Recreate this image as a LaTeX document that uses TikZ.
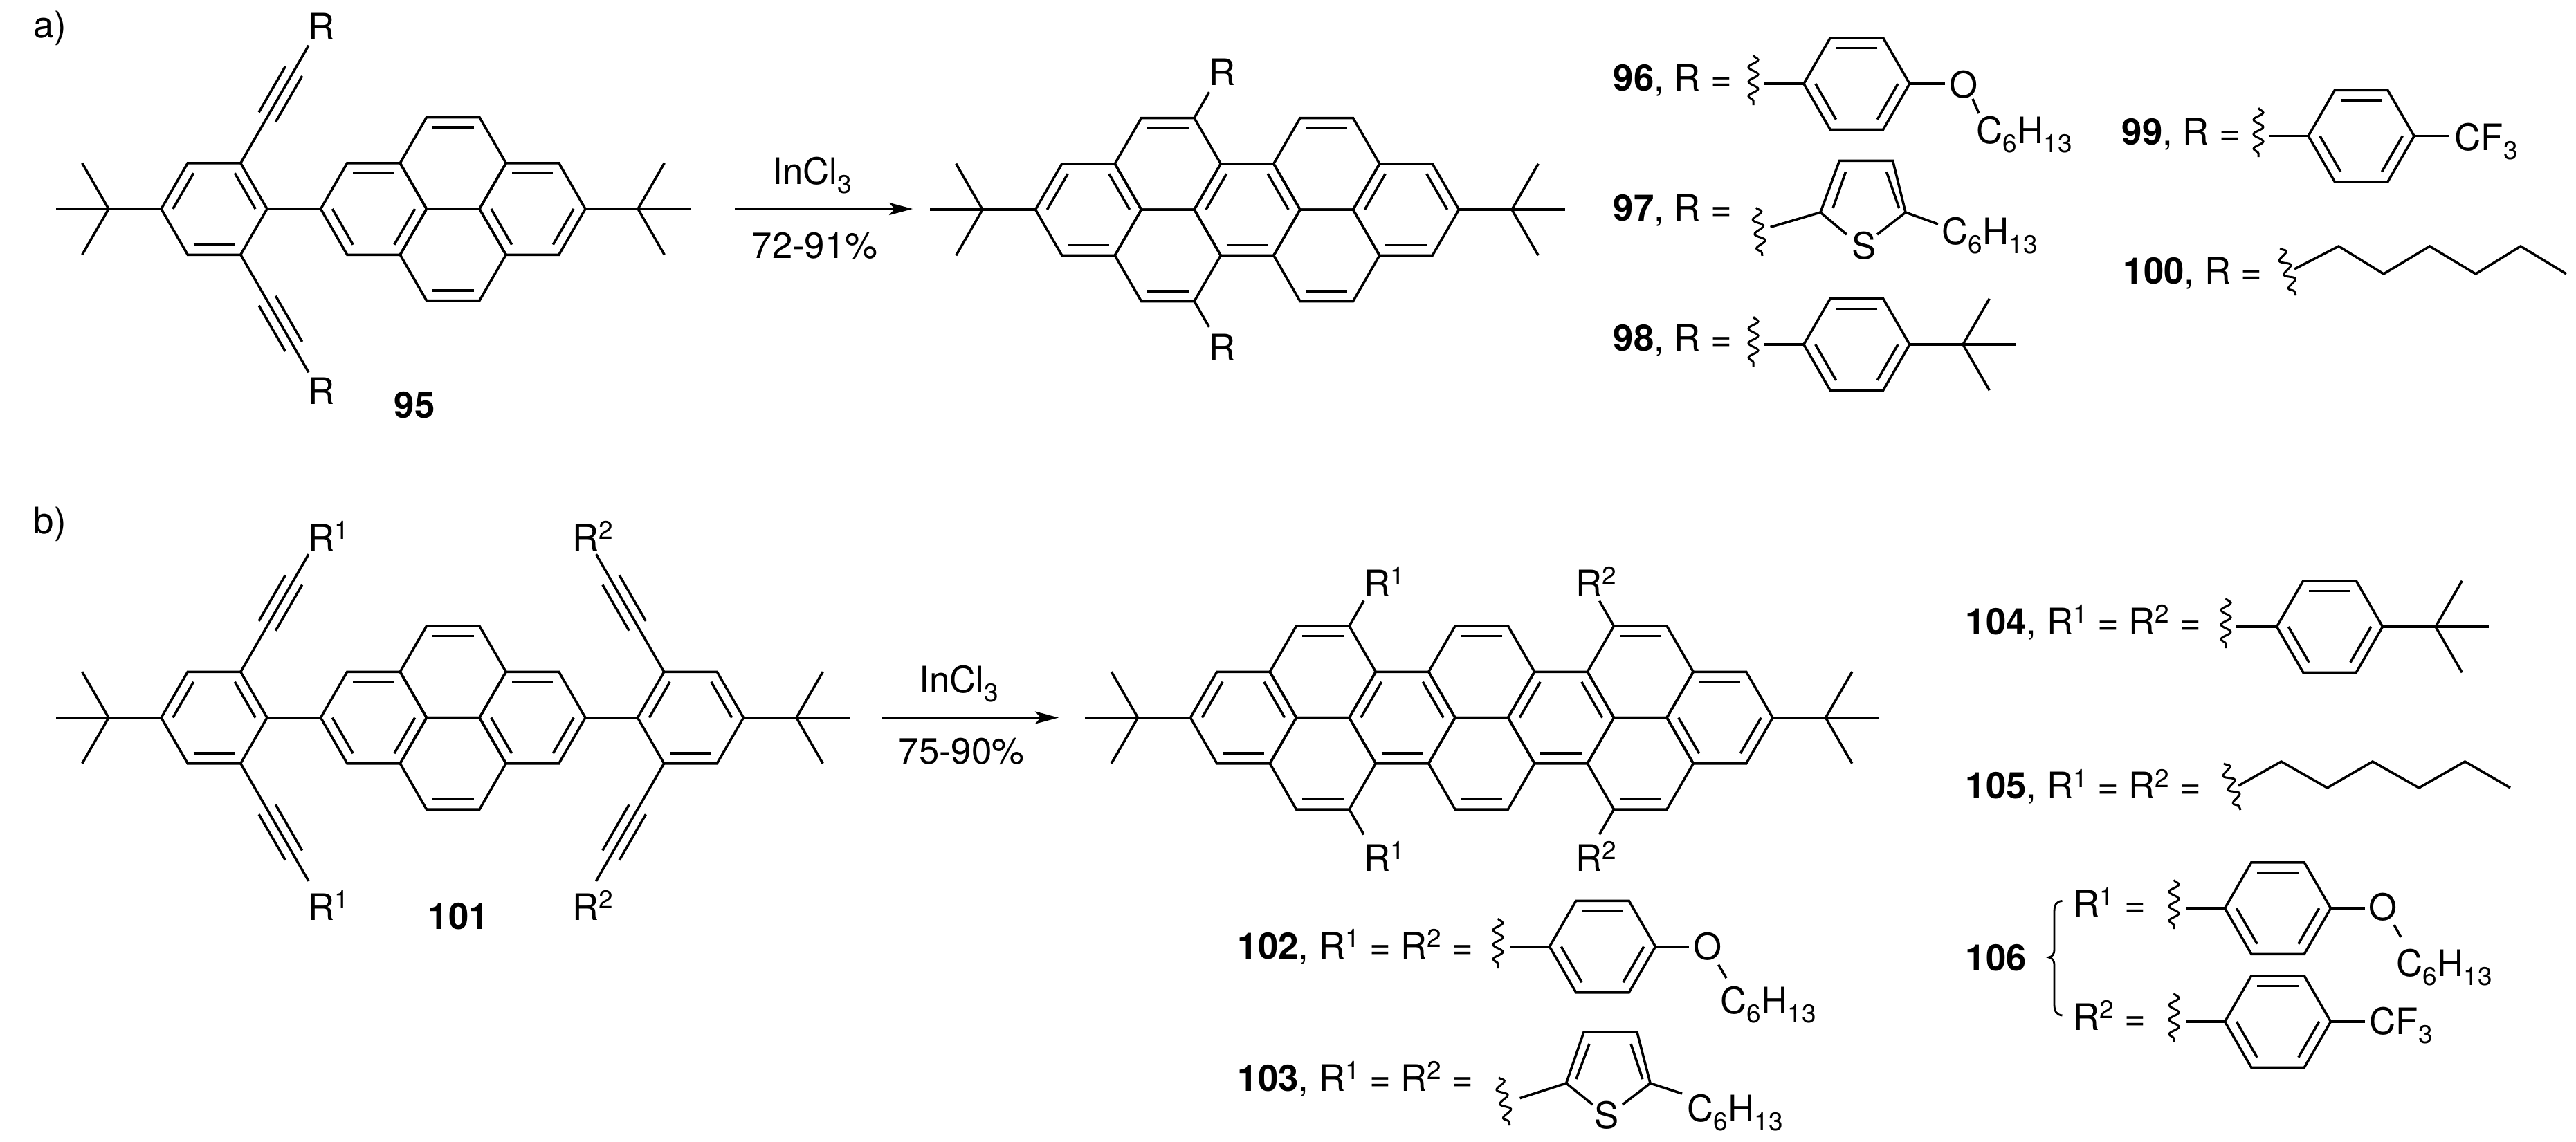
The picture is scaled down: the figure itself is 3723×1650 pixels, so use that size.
\documentclass[tikz,border=0pt]{standalone}
\usepackage{fontspec}
\setmainfont{TeX Gyre Heros}
\usetikzlibrary{calc,arrows.meta,decorations.pathmorphing}
\newcommand\lsub[1]{\raisebox{-3.7pt}{\fontsize{10.5}{12}\selectfont #1}}
\newcommand\lsup[1]{\raisebox{4.7pt}{\fontsize{10.5}{12}\selectfont #1}}
\tikzset{
	lbl/.style={font=\fontsize{15}{18}\selectfont,inner sep=0pt,anchor=base west},
	num/.style={lbl,font=\fontsize{15}{18}\selectfont\bfseries},
	bond/.style={line width=1pt},
	wavy/.style={line width=.85pt,decorate,decoration={snake,amplitude=.07cm,segment length=.21cm}},
	rxn/.style={line width=1pt,-{Stealth[length=.34cm,width=.18cm,inset=.08cm]}}
}
\begin{document}
\begin{tikzpicture}[x=.01cm,y=-.01cm,bond]
	\def\a{76.5}
	\def\s{114.75}
	\def\h{66.25}
	% vong 6 canh, #3 la cac canh co lien ket doi
	\def\ring#1#2#3{
		\draw (#1,#2)+(0:\a) -- +(60:\a) -- +(120:\a) -- +(180:\a) -- +(240:\a) -- +(300:\a) -- cycle;
		\foreach \k in {#3}
		\draw ($(#1,#2)+(-60*\k:.78*\a)$) -- ($(#1,#2)+(-60*\k-60:.78*\a)$);
	}
	\def\tbu#1#2#3{
		\foreach \k in {0,120,180,240}
		\draw (#1,#2) -- ++(#3+\k:\a);
	}
	\def\alkyne#1#2#3{
		\draw (#1,#2) -- ++(-#3:196);
		\draw ($(#1,#2)+(-#3:76.5)+(-#3-90:14)$) -- ++(-#3:76.5);
		\draw ($(#1,#2)+(-#3:76.5)+(-#3+90:14)$) -- ++(-#3:76.5);
	}
	\def\pyrene#1#2{
		\ring{#1}{#2}{1,3,5}
		\ring{#1+2*\s}{#2}{1,3,5}
		\ring{#1+\s}{#2-\h}{1}
		\ring{#1+\s}{#2+\h}{4}
	}
	% 4 vong kieu thang dung cho san pham
	\def\peri#1#2{
		\ring{#1}{#2}{0,2,4}
		\ring{#1+\s}{#2-\h}{1}
		\ring{#1+\s}{#2+\h}{4}
	}
	\def\wav#1#2#3#4{\draw[wavy] (#1,#2) -- (#3,#4);}
	\useasboundingbox (0,0) rectangle (3723,1650);
	
	% a)
	\node[lbl] (labA) at (47,54) {a)};
	\tbu{157}{302}{0}
	\ring{309.5}{302}{0,2,4}
	\draw (386,302) -- (463.5,302);
	\pyrene{540}{302}
	\tbu{922}{302}{180}
	\alkyne{348}{235.5}{60}
	\alkyne{348}{368.5}{-60}
	\node[lbl] (aRtop) at (444,57) {R};
	\node[lbl] (aRbot) at (444,584) {R};
	\node[num] (n95) at (568,604) {95};
	\coordinate (aArrL) at (1062,302);
	\coordinate (aArrR) at (1319,302);
	\draw[rxn] (aArrL) -- (aArrR);
	\node[lbl] (aCat) at (1115,266) {InCl\lsub{3}};
	\node[lbl] (aYld) at (1085,373) {72-91\%};
	\tbu{1420}{303}{0}
	\peri{1573}{303}
	\ring{1802.5}{303}{0,2,4}
	\ring{1917.25}{236.75}{1}
	\ring{1917.25}{369.25}{4}
	\ring{2032}{303}{0,2,4}
	\tbu{2185}{303}{180}
	\coordinate (aPt) at (1726,170.5);
	\coordinate (aPb) at (1726,435.5);
	\draw (aPt) -- ++(-60:43);
	\draw (aPb) -- ++(60:43);
	\node[lbl] (aRpt) at (1746,123) {R};
	\node[lbl] (aRpb) at (1746,521) {R};
	
	% 96
	\node[lbl] (n96) at (2330,131) {\textbf{96}, R =};
	\wav{2534}{80}{2534}{152}
	\draw (2550,121) -- (2607,121);
	\ring{2683.4}{121}{1,3,5}
	\draw (2760,121) -- (2811,121);
	\node[lbl] (o96) at (2816,141) {O};
	\draw (2851,143) -- (2860,164);
	\node[lbl] (c96) at (2855,207.5) {C\lsub{6}H\lsub{13}};
	% 97
	\node[lbl] (n97) at (2330,319) {\textbf{97}, R =};
	\wav{2538}{300}{2547}{370}
	\draw (2558.6,328.4) -- (2631,307) -- (2658.5,232.4) -- (2735.6,232.4) -- (2754,307) -- (2801,324);
	\draw (2631,307) -- (2669,339) (2754,307) -- (2713,339);
	\draw (2667.5,248.4) -- (2649,301) (2726.5,248.4) -- (2744.7,301);
	\node[lbl] (s97) at (2675,374) {S};
	\node[lbl] (c97) at (2805,353) {C\lsub{6}H\lsub{13}};
	% 98
	\node[lbl] (n98) at (2330,507) {\textbf{98}, R =};
	\wav{2534}{458}{2534}{530}
	\draw (2550,498) -- (2607,498);
	\ring{2683.4}{498}{1,3,5}
	\tbu{2837}{498}{180}
	% 99
	\node[lbl] (n99) at (3065,209) {\textbf{99}, R =};
	\wav{3264}{156}{3264}{227}
	\draw (3280,196.6) -- (3336,196.6);
	\ring{3412.6}{196.6}{1,3,5}
	\draw (3489,196.6) -- (3540,196.6);
	\node[lbl] (c99) at (3546,217) {CF\lsub{3}};
	% 100
	\node[lbl] (n100) at (3067,410) {\textbf{100}, R =};
	\wav{3295.5}{359}{3318}{427}
	\draw (3316,389) -- (3380,356) -- (3445,396) -- (3511.5,356) -- (3578,396) -- (3643,356) -- (3709,396);
	
	% b)
	\node[lbl] (labB) at (47,771) {b)};
	\tbu{157}{1037.5}{0}
	\ring{309.5}{1037.5}{0,2,4}
	\draw (386,1037.5) -- (463.5,1037.5);
	\pyrene{540}{1037.5}
	\draw (845.5,1037.5) -- (921.5,1037.5);
	\ring{998}{1037.5}{0,2,4}
	\tbu{1151}{1037.5}{180}
	\alkyne{348}{971}{60}
	\alkyne{348}{1104}{-60}
	\alkyne{959.5}{971}{120}
	\alkyne{959.5}{1104}{-120}
	\node[lbl] (bR1t) at (444,796) {R\lsup{1}};
	\node[lbl] (bR1b) at (444,1330) {R\lsup{1}};
	\node[lbl] (bR2t) at (826,796) {R\lsup{2}};
	\node[lbl] (bR2b) at (826,1330) {R\lsup{2}};
	\node[num] (n101) at (617,1343) {101};
	\coordinate (bArrL) at (1275,1037.5);
	\coordinate (bArrR) at (1530,1037.5);
	\draw[rxn] (bArrL) -- (bArrR);
	\node[lbl] (bCat) at (1327,1001) {InCl\lsub{3}};
	\node[lbl] (bYld) at (1297,1104.5) {75-90\%};
	\tbu{1644.5}{1037.5}{0}
	\peri{1797}{1037.5}
	\ring{2026.5}{1037.5}{0,2,4}
	\ring{2141.25}{971.25}{1}
	\ring{2141.25}{1103.75}{4}
	\ring{2256}{1037.5}{0,2,4}
	\ring{2370.75}{971.25}{1}
	\ring{2370.75}{1103.75}{4}
	\ring{2485.5}{1037.5}{1,3,5}
	\tbu{2638.5}{1037.5}{180}
	\coordinate (bP1t) at (1950,905);
	\coordinate (bP1b) at (1950,1170);
	\coordinate (bP2t) at (2332.5,905);
	\coordinate (bP2b) at (2332.5,1170);
	\draw (bP1t) -- ++(-60:42);
	\draw (bP1b) -- ++(60:42);
	\draw (bP2t) -- ++(-120:42);
	\draw (bP2b) -- ++(120:42);
	\node[lbl] (bR1pt) at (1970,862) {R\lsup{1}};
	\node[lbl] (bR1pb) at (1970,1259.5) {R\lsup{1}};
	\node[lbl] (bR2pt) at (2276,862) {R\lsup{2}};
	\node[lbl] (bR2pb) at (2276,1259.5) {R\lsup{2}};
	
	% 102
	\node[lbl] (n102) at (1787,1386) {\textbf{102}, R\lsup{1} = R\lsup{2} =};
	\wav{2165}{1327.6}{2165}{1400}
	\draw (2182,1368.5) -- (2240,1368.5);
	\ring{2316}{1368.5}{1,3,5}
	\draw (2393,1368.5) -- (2440.6,1368.5);
	\node[lbl] (o102) at (2446,1387) {O};
	\draw (2483.6,1394.6) -- (2495,1414);
	\node[lbl] (c102) at (2485,1465.5) {C\lsub{6}H\lsub{13}};
	% 103
	\node[lbl] (n103) at (1787,1577) {\textbf{103}, R\lsup{1} = R\lsup{2} =};
	\wav{2166}{1557.5}{2182}{1627}
	\draw (2196.6,1587.6) -- (2263.6,1566) -- (2289,1492) -- (2366,1492) -- (2385,1566) -- (2431,1581);
	\draw (2263.6,1566) -- (2302,1597) (2385,1566) -- (2345,1597);
	\draw (2297,1509) -- (2278,1560) (2357,1509) -- (2374,1560);
	\node[lbl] (s103) at (2303,1631) {S};
	\node[lbl] (c103) at (2437,1621.6) {C\lsub{6}H\lsub{13}};
	% 104
	\node[lbl] (n104) at (2839,917) {\textbf{104}, R\lsup{1} = R\lsup{2} =};
	\wav{3217}{865}{3217}{937}
	\draw (3232,906) -- (3290,906);
	\ring{3367}{906}{1,3,5}
	\tbu{3520}{906}{180}
	% 105
	\node[lbl] (n105) at (2839,1154.6) {\textbf{105}, R\lsup{1} = R\lsup{2} =};
	\wav{3214}{1103.6}{3238}{1171}
	\draw (3235,1136) -- (3297,1101) -- (3363.5,1139) -- (3429,1101) -- (3496,1139) -- (3562.5,1101) -- (3628,1139);
	% 106
	\node[num] (n106) at (2839,1403.6) {106};
	\coordinate (brT) at (2980.5,1302.5);
	\coordinate (brM) at (2961,1384);
	\coordinate (brB) at (2980.5,1468);
	\draw[line width=.8pt] (brT) .. controls (2972,1303) and (2969,1308) .. (2969,1318) -- (2969,1372) .. controls (2969,1380) and (2966,1383) .. (brM) .. controls (2966,1385) and (2969,1388) .. (2969,1396) -- (2969,1452) .. controls (2969,1462) and (2972,1467) .. (brB);
	\node[lbl] (r1106) at (2995,1325.5) {R\lsup{1} =};
	\wav{3142}{1272}{3142}{1343}
	\draw (3159,1313) -- (3215.5,1313);
	\ring{3292}{1313}{1,3,5}
	\draw (3369,1313) -- (3417.6,1313);
	\node[lbl] (o106) at (3422,1330.6) {O};
	\draw (3460,1337) -- (3470,1355);
	\node[lbl] (c106) at (3462,1411) {C\lsub{6}H\lsub{13}};
	\node[lbl] (r2106) at (2995,1489) {R\lsup{2} =};
	\wav{3142}{1436}{3142}{1506.6}
	\draw (3159,1477) -- (3215.5,1477);
	\ring{3292}{1477}{1,3,5}
	\draw (3369,1477) -- (3417.6,1477);
	\node[lbl] (cf106) at (3423,1495) {CF\lsub{3}};
\end{tikzpicture}
\end{document}
